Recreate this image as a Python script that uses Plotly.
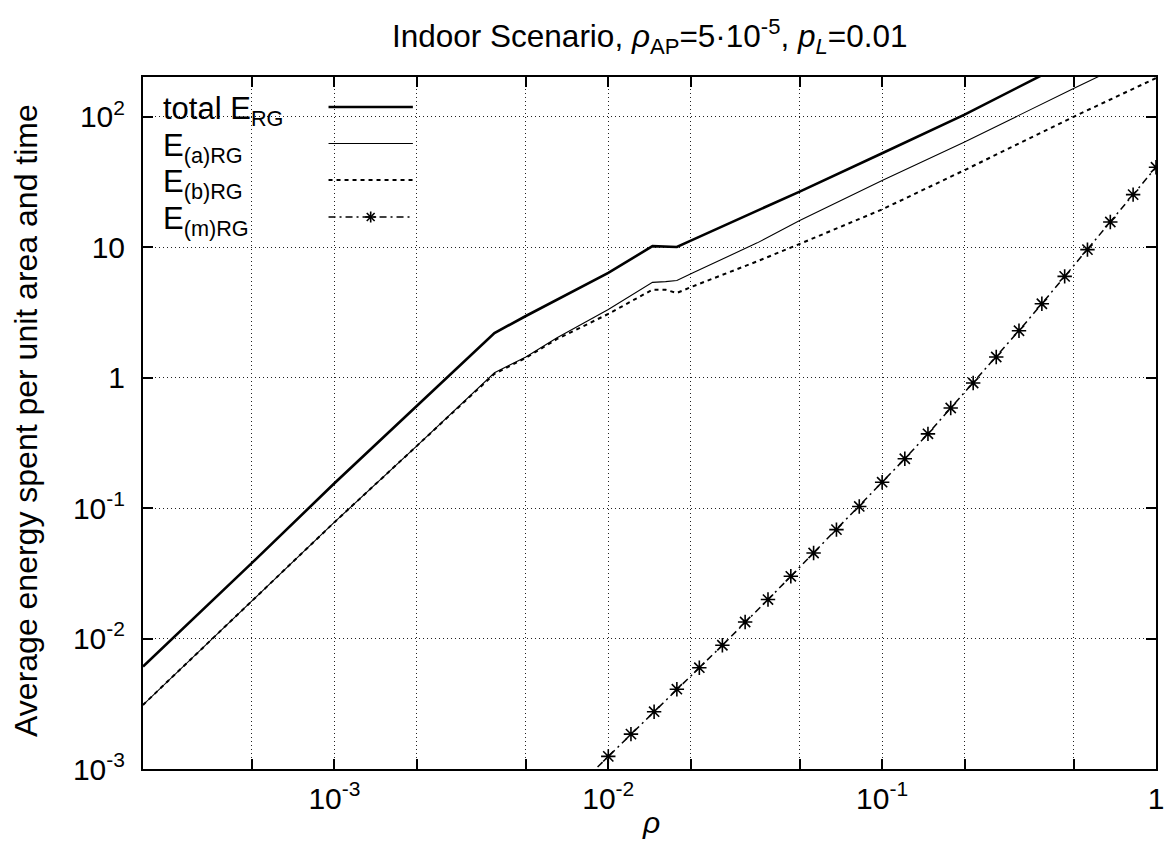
import plotly.graph_objects as go

# ---------------- data ----------------
rho = [2e-4, 5e-4, 1e-3, 2e-3, 3.84e-3, 5e-3, 6.5e-3, 0.01, 0.0145, 0.0162,
       0.0178, 0.0203, 0.035, 0.05, 0.1, 0.2, 0.5, 1.0]
e_total = [6.1e-3, 0.038, 0.155, 0.61, 2.2, 2.97, 3.96, 6.35, 10.2, 10.1,
           10.05, 11.4, 19.0, 26.7, 52.5, 104, 277, 570]
e_a = [3.1e-3, 0.0194, 0.078, 0.30, 1.09, 1.44, 2.02, 3.33, 5.38, 5.45,
       5.55, 6.35, 10.8, 16.0, 32.5, 64, 165, 330]
e_b = [3.1e-3, 0.0194, 0.078, 0.30, 1.07, 1.42, 1.98, 3.08, 4.73, 4.72,
       4.46, 5.0, 7.8, 10.6, 19.5, 39, 100, 198]

rho_m = [0.00825, 0.01, 0.0121, 0.0147, 0.0178, 0.0215, 0.0261, 0.0316, 0.0383,
         0.0464, 0.0562, 0.0681, 0.0825, 0.1, 0.121, 0.147, 0.178, 0.215, 0.261,
         0.316, 0.383, 0.464, 0.562, 0.681, 0.825, 1.0]
e_m = [8.4e-4, 1.25e-3, 1.85e-3, 2.75e-3, 4.09e-3, 5.98e-3, 8.88e-3, 1.34e-2,
       1.99e-2, 3.0e-2, 4.53e-2, 6.84e-2, 0.103, 0.158, 0.239, 0.371, 0.585,
       0.91, 1.44, 2.29, 3.69, 5.98, 9.59, 15.6, 25.3, 41.0]

x_tickvals = [5e-4, 1e-3, 2e-3, 5e-3, 1e-2, 2e-2, 5e-2, 0.1, 0.2, 0.5, 1]
x_ticktext = ["", "10<sup>-3</sup>", "", "", "10<sup>-2</sup>", "", "",
              "10<sup>-1</sup>", "", "", "1"]
y_tickvals = [1e-3, 1e-2, 1e-1, 1, 10, 100]
y_ticktext = ["10<sup>-3</sup>", "10<sup>-2</sup>", "10<sup>-1</sup>", "1", "10",
              "10<sup>2</sup>"]

legend_names = ["total E<sub>RG</sub>", "E<sub>(a)RG</sub>",
                "E<sub>(b)RG</sub>", "E<sub>(m)RG</sub>"]

# ---------------- layout geometry ----------------
W, H = 1176, 862
L, R, T, B = 143, 1164, 77, 769
FONT = "Liberation Sans, Arial, Helvetica, sans-serif"
FS = 30


def px(xp):
    return (xp - L) / (R - L)


def py(yp):
    return (B - yp) / (B - T)


fig = go.Figure()

fig.add_trace(go.Scatter(x=rho, y=e_total, mode="lines", name="total",
                         line=dict(color="black", width=2.6)))
fig.add_trace(go.Scatter(x=rho, y=e_a, mode="lines", name="a",
                         line=dict(color="black", width=1.1)))
fig.add_trace(go.Scatter(x=rho, y=e_b, mode="lines", name="b",
                         line=dict(color="black", width=2, dash="4px,4px")))
fig.add_trace(go.Scatter(x=rho_m, y=e_m, mode="lines+markers", name="m",
                         line=dict(color="black", width=1.5, dash="7px,4px,2px,4px"),
                         marker=dict(symbol="asterisk-open", size=12,
                                     line=dict(color="black", width=1.6))))

grid = dict(showgrid=True, gridcolor="#222", gridwidth=1, griddash="1px,3px")
axis_common = dict(showline=True, linecolor="black", linewidth=2, mirror="allticks",
                   ticks="inside", ticklen=10, tickwidth=1.5, tickcolor="black",
                   zeroline=False, tickfont=dict(family=FONT, size=FS, color="black"),
                   **grid)

fig.update_xaxes(type="log", range=[-3.699, 0], tickmode="array",
                 tickvals=x_tickvals, ticktext=x_ticktext, ticklabelstandoff=2,
                 **axis_common)
fig.update_yaxes(type="log", range=[-3, 2.305], tickmode="array",
                 tickvals=y_tickvals, ticktext=y_ticktext, ticklabelstandoff=10,
                 **axis_common)

shapes = []
# opaque key box
shapes.append(dict(type="rect", xref="paper", yref="paper", layer="between",
                   x0=px(158), x1=px(433), y0=py(240), y1=py(79),
                   fillcolor="white", line=dict(width=0)))
rows = [107, 143.5, 180, 217]
styles = [dict(color="black", width=2.6),
          dict(color="black", width=1.1),
          dict(color="black", width=2, dash="4px,4px"),
          dict(color="black", width=1.5, dash="7px,4px,2px,4px")]
for yr, st in zip(rows, styles):
    shapes.append(dict(type="line", xref="paper", yref="paper",
                       x0=px(330), x1=px(415), y0=py(yr), y1=py(yr), line=st))
# asterisk sample
cx, cy, r = 372.5, rows[3], 5.5
rd = r * 0.72
arms = [(cx - r, cy, cx + r, cy), (cx, cy - r, cx, cy + r),
        (cx - rd, cy - rd, cx + rd, cy + rd), (cx - rd, cy + rd, cx + rd, cy - rd)]
for a in arms:
    shapes.append(dict(type="line", xref="paper", yref="paper",
                       x0=px(a[0]), x1=px(a[2]), y0=py(a[1]), y1=py(a[3]),
                       line=dict(color="black", width=1.6)))

annotations = []
for yr, name in zip(rows, legend_names):
    annotations.append(dict(text=name, xref="paper", yref="paper", x=px(161),
                            y=py(yr + 4), xanchor="left", yanchor="middle",
                            showarrow=False,
                            font=dict(family=FONT, size=31, color="black")))

annotations.append(dict(
    text="Indoor Scenario, <i>ρ</i><sub>AP</sub>=5·10<sup>-5</sup>, <i>p</i><sub><i>L</i></sub>=0.01",
    xref="paper", yref="paper", x=px(653), y=py(37), xanchor="center",
    yanchor="middle", showarrow=False, font=dict(family=FONT, size=31.5, color="black")))
annotations.append(dict(text="<i>ρ</i>", xref="paper", yref="paper", x=px(655),
                        y=py(822), xanchor="center", yanchor="middle",
                        showarrow=False, font=dict(family=FONT, size=FS, color="black")))
annotations.append(dict(text="Average energy spent per unit area and time",
                        xref="paper", yref="paper", x=px(25), y=py(420),
                        xanchor="center", yanchor="middle", textangle=-90,
                        showarrow=False, font=dict(family=FONT, size=32, color="black")))

fig.update_layout(width=W, height=H, autosize=False,
                  margin=dict(l=L, r=W - R, t=T, b=H - B, pad=0),
                  paper_bgcolor="white", plot_bgcolor="white",
                  showlegend=False, shapes=shapes, annotations=annotations,
                  font=dict(family=FONT, size=FS, color="black"))

fig.write_html("out.html")
